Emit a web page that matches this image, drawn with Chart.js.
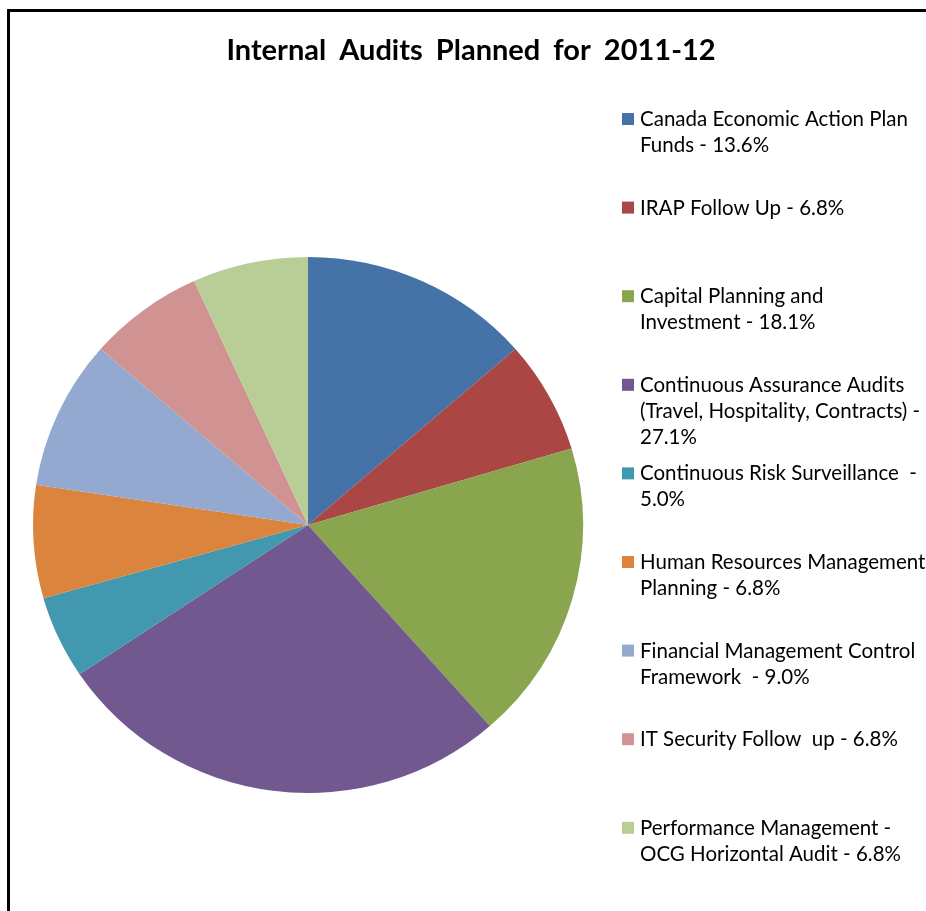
<!DOCTYPE html>
<html>
<head>
<meta charset="utf-8">
<title>Internal Audits Planned for 2011-12</title>
<script src="https://cdn.jsdelivr.net/npm/chart.js@4.4.0/dist/chart.umd.min.js"></script>
<style>
  html, body { margin: 0; padding: 0; background: #fff; overflow: hidden; }
  #wrap { position: relative; width: 926px; height: 911px; }
  #frame {
    position: absolute; left: 7px; top: 9px; width: 940px; height: 920px;
    border-left: 3px solid #000; border-top: 3px solid #000;
  }
  #chartBox { position: absolute; left: 0; top: 0; width: 926px; height: 911px; }
</style>
</head>
<body>
<div id="wrap">
  <div id="frame"></div>
  <div id="chartBox"><canvas id="auditChart"></canvas></div>
</div>
<script>
const chartTitle = "Internal Audits Planned for 2011-12";

const categories = [
  "Canada Economic Action Plan Funds",
  "IRAP Follow Up",
  "Capital Planning and Investment",
  "Continuous Assurance Audits (Travel, Hospitality, Contracts)",
  "Continuous Risk Surveillance",
  "Human Resources Management Planning",
  "Financial Management Control Framework",
  "IT Security Follow up",
  "Performance Management - OCG Horizontal Audit"
];

const shares = [13.6, 6.8, 18.1, 27.1, 5.0, 6.8, 9.0, 6.8, 6.8];

// legend text as it wraps in the original
const legendLines = [
  ["Canada Economic Action Plan", "Funds - 13.6%"],
  ["IRAP Follow Up - 6.8%"],
  ["Capital Planning and", "Investment - 18.1%"],
  ["Continuous Assurance Audits", "(Travel, Hospitality, Contracts) -", "27.1%"],
  ["Continuous Risk Surveillance  -", "5.0%"],
  ["Human Resources Management", "Planning - 6.8%"],
  ["Financial Management Control", "Framework  - 9.0%"],
  ["IT Security Follow  up - 6.8%"],
  ["Performance Management -", "OCG Horizontal Audit - 6.8%"]
];

const colors = [
  "#4572A7", "#AA4643", "#89A54E", "#71588F", "#4198AF",
  "#DB843D", "#93A9CF", "#D19392", "#B9CD96"
];

const textFont = "Lato, 'Open Sans', sans-serif";

// the original pie is a little wider than tall
const stretchX = 275 / 268;

const ellipsePie = {
  id: "ellipsePie",
  beforeDatasetsDraw(chart) {
    const arc = chart.getDatasetMeta(0).data[0];
    const ctx = chart.ctx;
    ctx.save();
    ctx.translate(arc.x, arc.y);
    ctx.scale(stretchX, 1);
    ctx.translate(-arc.x, -arc.y);
  },
  afterDatasetsDraw(chart) {
    chart.ctx.restore();
  }
};

const titleAndLegend = {
  id: "titleAndLegend",
  afterDraw(chart) {
    const ctx = chart.ctx;
    ctx.save();
    ctx.fillStyle = "#000";
    ctx.textBaseline = "alphabetic";

    ctx.font = "bold 29px " + textFont;
    ctx.textAlign = "center";
    if ("wordSpacing" in ctx) ctx.wordSpacing = "6px";
    ctx.fillText(chartTitle, 471, 60);
    if ("wordSpacing" in ctx) ctx.wordSpacing = "0px";

    ctx.font = "20.5px " + textFont;
    ctx.textAlign = "left";
    const x0 = 622, firstY = 119, step = 88.6, lineH = 26;
    legendLines.forEach((lines, i) => {
      const y = firstY + i * step;
      ctx.fillStyle = colors[i];
      ctx.fillRect(x0, y - 6, 12, 12);
      ctx.fillStyle = "#000";
      lines.forEach((t, j) => {
        ctx.fillText(t, x0 + 18, y + 7 + j * lineH);
      });
    });
    ctx.restore();
  }
};

new Chart(document.getElementById("auditChart"), {
  type: "pie",
  data: {
    labels: categories,
    datasets: [
      {
        data: shares,
        backgroundColor: colors,
        borderWidth: 0,
      },
    ],
  },
  options: {
    responsive: true,
    maintainAspectRatio: false,
    animation: false,
    layout: {
      padding: { left: 40, right: 350, top: 257, bottom: 118 },
    },
    plugins: {
      legend: { display: false },
      title: { display: false },
      tooltip: { enabled: false },
    },
  },
  plugins: [ellipsePie, titleAndLegend],
});
</script>
</body>
</html>
